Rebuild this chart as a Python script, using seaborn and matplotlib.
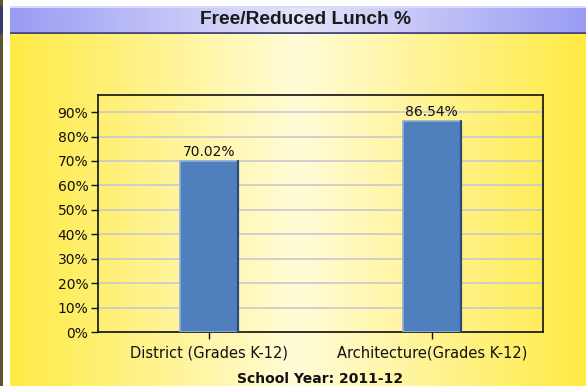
import numpy as np
import pandas as pd
import matplotlib
matplotlib.use("Agg")
import matplotlib.pyplot as plt
import seaborn as sns
from matplotlib.colors import LinearSegmentedColormap

categories = ["District (Grades K-12)", "Architecture(Grades K-12)"]
values = [70.02, 86.54]
value_labels = ["70.02%", "86.54%"]
yticks = [0, 10, 20, 30, 40, 50, 60, 70, 80, 90]
ytick_labels = ["0%", "10%", "20%", "30%", "40%", "50%", "60%", "70%", "80%", "90%"]
title = "Free/Reduced Lunch %"
xlabel = "School Year: 2011-12"

sns.set_theme(style="white")
plt.rcParams["font.family"] = ["DejaVu Sans"]

W, H = 586, 386
fig = plt.figure(figsize=(W / 100, H / 100), dpi=100)
fig.patch.set_facecolor("white")

def frac_x(px):
    return px / W

def frac_y(py):
    return 1 - py / H

# horizontal gradient helper (edge colour -> centre colour -> edge colour)
def hgrad(edge, centre, n=256):
    cmap = LinearSegmentedColormap.from_list("g", [edge, centre, edge])
    return cmap, np.linspace(0, 1, n).reshape(1, -1)

# yellow panel behind the chart
panel = fig.add_axes([frac_x(10), 0, 1 - frac_x(10), frac_y(34)])
cmap, grad = hgrad("#FFEA45", "#FFFCD8")
panel.imshow(grad, aspect="auto", cmap=cmap, extent=[0, 1, 0, 1])
panel.set_axis_off()

# lavender title bar
tbar = fig.add_axes([frac_x(10), frac_y(34), 1 - frac_x(10), frac_y(6) - frac_y(34)])
cmap2, grad2 = hgrad("#9A9CF4", "#E4E4FA")
tbar.imshow(grad2, aspect="auto", cmap=cmap2, extent=[0, 1, 0, 1])
tbar.set_xlim(0, 1)
tbar.set_ylim(0, 1)
tbar.axhline(0.04, color="#4A4A7A", lw=2)
tbar.axhline(0.97, color="#D8D8FA", lw=1.5)
tbar.set_axis_off()
fig.text(frac_x(305), frac_y(20), title, ha="center", va="center",
         fontsize=13.8, fontweight="bold", color="#1A1A1A",
         family=["Liberation Sans", "DejaVu Sans"])

# dark frame strip at the left edge
strip = fig.add_axes([0, 0, frac_x(3), 1])
strip.set_facecolor("#5E5628")
strip.set_xticks([]); strip.set_yticks([])
for s in strip.spines.values():
    s.set_visible(False)
strip_top = fig.add_axes([0, frac_y(34), frac_x(3), frac_y(6) - frac_y(34)])
strip_top.set_facecolor("#3A3A6A")
strip_top.set_xticks([]); strip_top.set_yticks([])
for s in strip_top.spines.values():
    s.set_visible(False)

# main plot
ax = fig.add_axes([frac_x(98), frac_y(332), frac_x(543) - frac_x(98), frac_y(95) - frac_y(332)])
ax.patch.set_alpha(0)

df = pd.DataFrame({"category": categories, "value": values})
sns.barplot(data=df, x="category", y="value", ax=ax, color="#4F7FBC",
            width=0.26, saturation=1, edgecolor="#8FB0DC", linewidth=1.2, zorder=3)

# darker shade along the right side of each bar
for p in ax.patches:
    x0, w, h = p.get_x(), p.get_width(), p.get_height()
    ax.plot([x0 + w, x0 + w], [0, h], color="#2E4A75", lw=1.6, zorder=4)

ax.set_xlim(-0.5, 1.5)
ax.set_ylim(0, 97)
ax.set_yticks(yticks)
ax.set_yticklabels(ytick_labels)
ax.yaxis.grid(True, color="#C8C8D0", lw=1.2, zorder=0)
ax.set_axisbelow(True)

for s in ax.spines.values():
    s.set_visible(True)
    s.set_color("#111111")
    s.set_linewidth(1.2)

ax.tick_params(axis="both", which="both", direction="out", length=5, width=1,
               color="#111111", labelsize=10, labelcolor="#111111", pad=2,
               left=True, bottom=True)
ax.tick_params(axis="x", pad=5, labelsize=10.5)

for p, lab in zip(ax.patches, value_labels):
    ax.text(p.get_x() + p.get_width() / 2, p.get_height() + 0.6, lab,
            ha="center", va="bottom", fontsize=10, color="#111111", zorder=5)

ax.set_xlabel(xlabel, fontsize=10, fontweight="bold", color="#111111", labelpad=8)
ax.set_ylabel("")

fig.savefig("out.png", dpi=100)
